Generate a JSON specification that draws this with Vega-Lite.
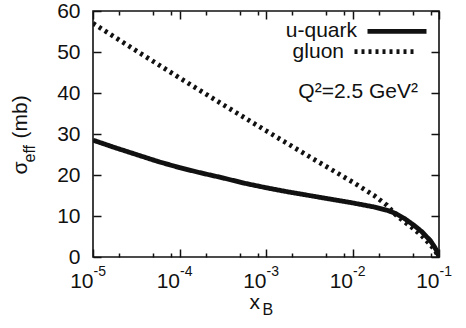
{
  "$schema": "https://vega.github.io/schema/vega-lite/v6.json",
  "width": 346,
  "height": 246,
  "autosize": {"type": "none"},
  "padding": {"left": 93, "top": 11, "right": 27, "bottom": 71},
  "background": "white",
  "config": {
    "view": {"stroke": "#111111", "strokeWidth": 1.6},
    "font": "Liberation Sans",
    "axis": {
      "grid": false,
      "domain": false,
      "tickColor": "#111111",
      "labelColor": "#111111",
      "titleColor": "#111111",
      "tickWidth": 1.5,
      "labelFont": "Liberation Sans",
      "titleFont": "Liberation Sans",
      "titleFontWeight": "normal",
      "labelFlush": false,
      "labelOverlap": false
    },
    "legend": {
      "symbolType": "stroke",
      "symbolSize": 3481,
      "symbolStrokeWidth": 4.8,
      "symbolStrokeColor": "#111111",
      "labelAlign": "right",
      "labelBaseline": "middle",
      "labelOffset": -72,
      "labelFontSize": 21,
      "labelFont": "Liberation Sans",
      "labelColor": "#111111",
      "padding": 0
    }
  },
  "datasets": {
    "curves": [
      {"series": "u-quark", "x": 0.00001, "y": 28.5},
      {"series": "u-quark", "x": 0.00001778, "y": 26.7},
      {"series": "u-quark", "x": 0.00003162, "y": 25.0},
      {"series": "u-quark", "x": 0.00005623, "y": 23.3},
      {"series": "u-quark", "x": 0.0001, "y": 21.8},
      {"series": "u-quark", "x": 0.0001778, "y": 20.5},
      {"series": "u-quark", "x": 0.0003162, "y": 19.3},
      {"series": "u-quark", "x": 0.0005623, "y": 18.0},
      {"series": "u-quark", "x": 0.001, "y": 16.9},
      {"series": "u-quark", "x": 0.001778, "y": 15.9},
      {"series": "u-quark", "x": 0.003162, "y": 15.0},
      {"series": "u-quark", "x": 0.005623, "y": 14.1},
      {"series": "u-quark", "x": 0.01, "y": 13.2},
      {"series": "u-quark", "x": 0.01778, "y": 12.2},
      {"series": "u-quark", "x": 0.02512, "y": 11.4},
      {"series": "u-quark", "x": 0.03162, "y": 10.6},
      {"series": "u-quark", "x": 0.03981, "y": 9.4},
      {"series": "u-quark", "x": 0.05012, "y": 7.9},
      {"series": "u-quark", "x": 0.0631, "y": 6.2},
      {"series": "u-quark", "x": 0.07943, "y": 4.0},
      {"series": "u-quark", "x": 0.08913, "y": 2.4},
      {"series": "u-quark", "x": 0.0955, "y": 1.2},
      {"series": "u-quark", "x": 0.1, "y": 0},
      {"series": "gluon", "x": 0.00001, "y": 57.0},
      {"series": "gluon", "x": 0.00003162, "y": 50.3},
      {"series": "gluon", "x": 0.0001, "y": 43.7},
      {"series": "gluon", "x": 0.0003162, "y": 37.2},
      {"series": "gluon", "x": 0.001, "y": 30.8},
      {"series": "gluon", "x": 0.003162, "y": 24.5},
      {"series": "gluon", "x": 0.01, "y": 18.3},
      {"series": "gluon", "x": 0.01778, "y": 15.0},
      {"series": "gluon", "x": 0.02512, "y": 12.6},
      {"series": "gluon", "x": 0.03162, "y": 10.3},
      {"series": "gluon", "x": 0.03981, "y": 8.6},
      {"series": "gluon", "x": 0.05012, "y": 7.0},
      {"series": "gluon", "x": 0.0631, "y": 5.2},
      {"series": "gluon", "x": 0.07943, "y": 3.0},
      {"series": "gluon", "x": 0.08913, "y": 1.7},
      {"series": "gluon", "x": 0.1, "y": 0}
    ],
    "notes": [
      {"label": "Q²=2.5 GeV²", "x": 0.0571, "y": 38.8}
    ]
  },
  "layer": [
    {
      "data": {"name": "curves"},
      "transform": [{"filter": "datum.series === 'u-quark'"}],
      "mark": {"type": "line", "color": "#111111", "strokeWidth": 4.8, "clip": true},
      "encoding": {
        "x": {
          "field": "x", "type": "quantitative",
          "scale": {"type": "log", "domain": [0.00001, 0.1], "nice": false},
          "axis": {
            "orient": "bottom",
            "values": [0.00001, 0.0001, 0.001, 0.01, 0.1],
            "ticks": false,
            "labelExpr": "'10'",
            "labelFontSize": 21, "labelAlign": "right", "labelDx": 2,
            "labelBaseline": "alphabetic", "labelPadding": 30,
            "title": "x", "titleFontSize": 21, "titleX": 156, "titleY": 51,
            "titleAlign": "left", "titleBaseline": "alphabetic", "titleAngle": 0
          }
        },
        "y": {
          "field": "y", "type": "quantitative",
          "scale": {"domain": [0, 60], "nice": false, "zero": true},
          "axis": {
            "orient": "left",
            "values": [0, 10, 20, 30, 40, 50, 60],
            "ticks": false,
            "labelFontSize": 21, "labelPadding": 13, "labelAlign": "right", "labelBaseline": "middle",
            "title": "σ", "titleFontSize": 21, "titleAngle": 270,
            "titleX": -67, "titleY": 163, "titleAlign": "left", "titleBaseline": "alphabetic"
          }
        },
        "strokeDash": {
          "field": "series", "type": "nominal",
          "scale": {"domain": ["u-quark"], "range": [[1, 0]]},
          "legend": {"orient": "none", "legendX": 272, "legendY": -11.6, "title": null}
        }
      }
    },
    {
      "data": {"name": "curves"},
      "transform": [{"filter": "datum.series === 'gluon'"}],
      "mark": {"type": "line", "color": "#111111", "strokeWidth": 4.8, "strokeDash": [3, 4], "clip": true},
      "encoding": {
        "x": {
          "field": "x", "type": "quantitative",
          "scale": {"type": "log", "domain": [0.00001, 0.1], "nice": false},
          "axis": {
            "orient": "bottom",
            "values": [0.00001, 0.0001, 0.001, 0.01, 0.1],
            "ticks": false,
            "labelExpr": "'-' + round(-log(datum.value)/LN10)",
            "labelFontSize": 14, "labelAlign": "left", "labelDx": 1,
            "labelBaseline": "alphabetic", "labelPadding": 18.5,
            "title": "B", "titleFontSize": 16, "titleX": 169, "titleY": 57,
            "titleAlign": "left", "titleBaseline": "alphabetic", "titleAngle": 0
          }
        },
        "y": {
          "field": "y", "type": "quantitative",
          "scale": {"domain": [0, 60], "nice": false, "zero": true},
          "axis": {
            "orient": "left",
            "labels": false, "ticks": false,
            "title": "eff", "titleFontSize": 16, "titleAngle": 270,
            "titleX": -59, "titleY": 151, "titleAlign": "left", "titleBaseline": "alphabetic"
          }
        },
        "strokeDash": {
          "field": "series", "type": "nominal",
          "scale": {"domain": ["gluon"], "range": [[3, 4]]},
          "legend": {"orient": "none", "legendX": 259, "legendY": 8.6, "title": null}
        }
      }
    },
    {
      "data": {"name": "notes"},
      "mark": {"type": "text", "align": "right", "baseline": "alphabetic", "fontSize": 21, "font": "Liberation Sans", "color": "#111111"},
      "encoding": {
        "text": {"field": "label"},
        "x": {
          "field": "x", "type": "quantitative",
          "scale": {"type": "log", "domain": [0.00001, 0.1], "nice": false},
          "axis": {
            "orient": "bottom",
            "values": [0.00001, 0.0001, 0.001, 0.01, 0.1],
            "labels": false, "ticks": true, "tickSize": 8, "offset": -8,
            "title": null
          }
        },
        "y": {
          "field": "y", "type": "quantitative",
          "scale": {"domain": [0, 60], "nice": false, "zero": true},
          "axis": {
            "orient": "left",
            "labels": false, "ticks": false,
            "title": "(mb)", "titleFontSize": 21, "titleAngle": 270,
            "titleX": -67, "titleY": 127, "titleAlign": "left", "titleBaseline": "alphabetic"
          }
        }
      }
    },
    {
      "data": {"name": "curves"},
      "mark": {"type": "line", "opacity": 0},
      "encoding": {
        "detail": {"field": "series"},
        "x": {
          "field": "x", "type": "quantitative",
          "scale": {"type": "log", "domain": [0.00001, 0.1], "nice": false},
          "axis": {
            "orient": "bottom",
            "values": [0.00002, 0.00005, 0.00008, 0.0002, 0.0005, 0.0008, 0.002, 0.005, 0.008, 0.02, 0.05, 0.08],
            "labels": false, "ticks": true, "tickSize": 4, "offset": -4,
            "title": null
          }
        },
        "y": {
          "field": "y", "type": "quantitative",
          "scale": {"domain": [0, 60], "nice": false, "zero": true},
          "axis": {
            "orient": "left",
            "values": [0, 10, 20, 30, 40, 50, 60],
            "labels": false, "ticks": true, "tickSize": 8, "offset": -8,
            "title": null
          }
        }
      }
    },
    {
      "data": {"name": "curves"},
      "mark": {"type": "line", "opacity": 0},
      "encoding": {
        "detail": {"field": "series"},
        "x": {
          "field": "x", "type": "quantitative",
          "scale": {"type": "log", "domain": [0.00001, 0.1], "nice": false},
          "axis": {
            "orient": "top",
            "values": [0.00001, 0.0001, 0.001, 0.01, 0.1],
            "labels": false, "ticks": true, "tickSize": 8, "offset": -8,
            "title": null
          }
        },
        "y": {
          "field": "y", "type": "quantitative",
          "scale": {"domain": [0, 60], "nice": false, "zero": true},
          "axis": {
            "orient": "right",
            "values": [0, 10, 20, 30, 40, 50, 60],
            "labels": false, "ticks": true, "tickSize": 8, "offset": -8,
            "title": null
          }
        }
      }
    },
    {
      "data": {"name": "curves"},
      "mark": {"type": "line", "opacity": 0},
      "encoding": {
        "detail": {"field": "series"},
        "x": {
          "field": "x", "type": "quantitative",
          "scale": {"type": "log", "domain": [0.00001, 0.1], "nice": false},
          "axis": {
            "orient": "top",
            "values": [0.00002, 0.00005, 0.00008, 0.0002, 0.0005, 0.0008, 0.002, 0.005, 0.008, 0.02, 0.05, 0.08],
            "labels": false, "ticks": true, "tickSize": 4, "offset": -4,
            "title": null
          }
        },
        "y": {
          "field": "y", "type": "quantitative",
          "scale": {"domain": [0, 60], "nice": false, "zero": true},
          "axis": null
        }
      }
    }
  ],
  "resolve": {
    "axis": {"x": "independent", "y": "independent"},
    "scale": {"strokeDash": "independent"},
    "legend": {"strokeDash": "independent"}
  }
}
